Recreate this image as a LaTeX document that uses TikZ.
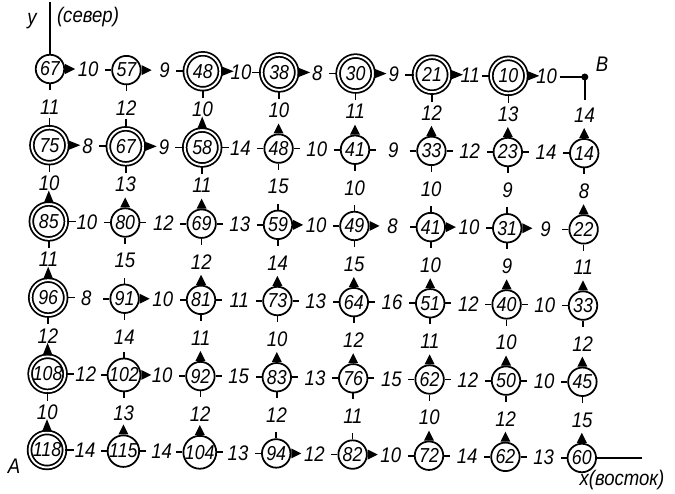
\documentclass[tikz,border=0pt]{standalone}
\usepackage{fontspec}
\setmainfont{Liberation Sans}[FakeStretch=0.88]
\usetikzlibrary{calc}

\begin{document}
\begin{tikzpicture}[x=0.02cm, y=-0.02cm,
  vert/.style={circle, draw, line width=1pt, minimum size=0.57cm, inner sep=0pt,
    font=\fontsize{11.5}{13}\selectfont\itshape},
  best/.style={vert, double, double distance=1.1pt, minimum size=0.7cm},
  stub/.style={line width=1pt},
  wt/.style={font=\fontsize{12}{14}\selectfont\itshape, inner sep=1pt},
  lab/.style={font=\fontsize{12}{14}\selectfont\itshape, inner sep=0pt}
]
\useasboundingbox (0,0) rectangle (675,493);

% узлы сетки
\foreach \i/\j/\v/\d/\b in {
  0/0/67/e/0, 1/0/57/e/0, 2/0/48/e/1, 3/0/38/e/1, 4/0/30/e/1, 5/0/21/e/1, 6/0/10/e/1,
  0/1/75/e/1, 1/1/67/e/1, 2/1/58/n/1, 3/1/48/n/0, 4/1/41/n/0, 5/1/33/n/0, 6/1/23/n/0, 7/1/14/n/0,
  0/2/85/n/1, 1/2/80/n/0, 2/2/69/n/0, 3/2/59/e/0, 4/2/49/e/0, 5/2/41/e/0, 6/2/31/e/0, 7/2/22/n/0,
  0/3/96/n/1, 1/3/91/e/0, 2/3/81/n/0, 3/3/73/n/0, 4/3/64/n/0, 5/3/51/n/0, 6/3/40/n/0, 7/3/33/n/0,
  0/4/108/n/1, 1/4/102/e/0, 2/4/92/n/0, 3/4/83/n/0, 4/4/76/n/0, 5/4/62/n/0, 6/4/50/n/0, 7/4/45/n/0,
  0/5/118/n/1, 1/5/115/n/0, 2/5/104/n/0, 3/5/94/e/0, 4/5/82/e/0, 5/5/72/n/0, 6/5/62/n/0, 7/5/60/n/0}{
  \pgfmathsetmacro\px{50+76.4*\i-0.6*\j}
  \pgfmathsetmacro\py{69+76.2*\j+1.14*\i}
  \pgfmathsetmacro\sl{6+2.5*\b}
  \pgfmathsetmacro\tl{10+2.5*\b}
  \ifnum\b=1 \def\s{best}\else\def\s{vert}\fi
  \node[\s] (n-\i-\j) at (\px,\py) {\v};
  \ifnum\i>0 \draw[stub] (n-\i-\j.west) -- ++(-\sl,0); \fi
  \ifnum\j<5 \draw[stub] (n-\i-\j.south) -- ++(0,\sl); \fi
  \if e\d
    \fill (n-\i-\j.east) ++(0,-5) -- ++(\tl,5) -- ++(-\tl,5) -- cycle;
  \else
    \ifnum\i<7 \draw[stub] (n-\i-\j.east) -- ++(\sl,0); \fi
  \fi
  \if n\d
    \fill (n-\i-\j.north) ++(-5,0) -- ++(5,-\tl) -- ++(5,\tl) -- cycle;
  \else
    \ifnum\j>0 \draw[stub] (n-\i-\j.north) -- ++(0,-\sl); \fi
  \fi
}

% точка B
\coordinate (n-7-0) at (584.8,77);
\fill (n-7-0) circle (3.5);
\draw[stub] (n-7-0) -- ++(-25,0);
\draw[stub] (n-7-0) -- ++(0,23);

% веса по горизонтали
\foreach \ws [count=\j from 0] in {{10,9,10,8,9,11,10},{8,9,14,10,9,12,14},{10,12,13,10,8,10,9},
    {8,10,11,13,16,12,10},{12,10,15,13,15,12,10},{14,14,13,12,10,14,13}}{
  \foreach \w [count=\i from 0] in \ws {
    \pgfmathtruncatemacro\k{\i+1}
    \node[wt] (h-\i-\j) at ($(n-\i-\j)!0.5!(n-\k-\j)$) {\w};
  }
}

% веса по вертикали
\foreach \ws [count=\j from 0] in {{11,12,10,10,11,12,13,14},{10,13,11,15,10,10,9,8},{11,15,12,14,15,10,9,11},
    {12,14,11,10,12,11,10,12},{10,13,12,12,11,10,12,15}}{
  \foreach \w [count=\i from 0] in \ws {
    \pgfmathtruncatemacro\k{\j+1}
    \node[wt] (v-\i-\j) at ($(n-\i-\j)!0.5!(n-\i-\k)$) {\w};
  }
}

% оси и подписи
\draw[stub] (n-0-0.north) -- ++(0,-52);
\draw[stub] (n-7-5.east) -- ++(45,0);
\node[lab] (ylab) at (32,21) {y};
\node[lab] (nlab) at (88,17) {(север)};
\node[lab] (xlab) at (622,480) {x(восток)};
\node[lab] (alab) at (14,466) {A};
\node[lab] (blab) at (602,64) {B};

\end{tikzpicture}
\end{document}
